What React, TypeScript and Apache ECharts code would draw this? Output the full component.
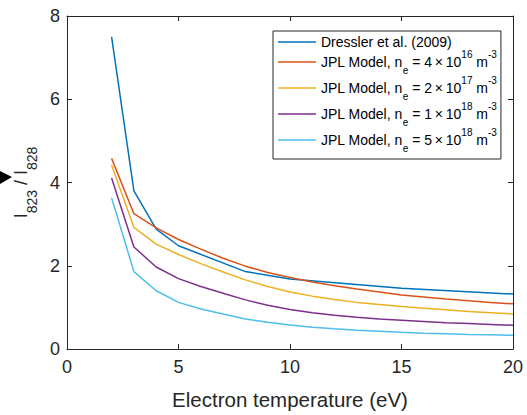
import React, { useEffect, useRef } from 'react';
import * as echarts from 'echarts';

const FONT = '"Liberation Sans", Arial, Helvetica, sans-serif';
const AXIS_COLOR = '#262626';

const xTicks = [0, 5, 10, 15, 20];
const yTicks = [0, 2, 4, 6, 8];

const dresslerTe = [2, 3, 4, 5, 8, 10, 15, 20];
const dresslerRatio = [7.5, 3.8, 2.88, 2.48, 1.86, 1.68, 1.46, 1.32];

const modelTe = [2, 3, 4, 5, 6, 7, 8, 9, 10, 11, 12, 13, 14, 15, 16, 17, 18, 19, 20];
const model4e16 = [4.58, 3.25, 2.91, 2.63, 2.40, 2.18, 1.99, 1.84, 1.72, 1.61, 1.52, 1.44, 1.37, 1.30, 1.25, 1.20, 1.16, 1.12, 1.085];
const model2e17 = [4.42, 2.92, 2.52, 2.27, 2.05, 1.85, 1.66, 1.50, 1.37, 1.27, 1.19, 1.12, 1.07, 1.02, 0.98, 0.94, 0.90, 0.87, 0.84];
const model1e18 = [4.11, 2.45, 1.97, 1.69, 1.50, 1.34, 1.18, 1.05, 0.95, 0.87, 0.81, 0.76, 0.72, 0.69, 0.66, 0.63, 0.61, 0.59, 0.57];
const model5e18 = [3.63, 1.86, 1.40, 1.12, 0.96, 0.84, 0.72, 0.64, 0.575, 0.525, 0.485, 0.45, 0.425, 0.40, 0.38, 0.365, 0.35, 0.34, 0.33];

const seriesNames = ['Dressler', 'n4e16', 'n2e17', 'n1e18', 'n5e18'];
const seriesColors = ['#0072BD', '#D95319', '#EDB120', '#7E2F8E', '#4DBEEE'];
const legendLabels: Record<string, string> = {
  Dressler: '{p|Dressler et al. (2009)}',
  n4e16: '{a|JPL Model, n}{sub|e}{a| = 4\u2009\u00D7\u200910}{sup|16}{a| m}{sup|-3}',
  n2e17: '{a|JPL Model, n}{sub|e}{a| = 2\u2009\u00D7\u200910}{sup|17}{a| m}{sup|-3}',
  n1e18: '{a|JPL Model, n}{sub|e}{a| = 1\u2009\u00D7\u200910}{sup|18}{a| m}{sup|-3}',
  n5e18: '{a|JPL Model, n}{sub|e}{a| = 5\u2009\u00D7\u200910}{sup|18}{a| m}{sup|-3}',
};

const zip = (xs: number[], ys: number[]) => xs.map((x, i) => [x, ys[i]]);

export default function App() {
  const ref = useRef<HTMLDivElement>(null);
  useEffect(() => {
    const chart = echarts.init(ref.current!, null, { renderer: 'svg' });
    const seriesData = [
      zip(dresslerTe, dresslerRatio),
      zip(modelTe, model4e16),
      zip(modelTe, model2e17),
      zip(modelTe, model1e18),
      zip(modelTe, model5e18),
    ];
    const axisLine = { show: true, onZero: false, lineStyle: { color: AXIS_COLOR, width: 1 } };
    const axisTick = { show: true, inside: true, length: 5, lineStyle: { color: AXIS_COLOR, width: 1 } };
    chart.setOption({
      animation: false,
      backgroundColor: '#ffffff',
      textStyle: { fontFamily: FONT },
      grid: { left: 67, right: 14, top: 16, bottom: 60, containLabel: false },
      xAxis: [
        {
          type: 'value', min: xTicks[0], max: xTicks[xTicks.length - 1], interval: 5, position: 'bottom',
          axisLine, axisTick, splitLine: { show: false },
          axisLabel: { color: AXIS_COLOR, fontSize: 18, margin: 9, fontFamily: FONT },
          name: 'Electron temperature (eV)', nameLocation: 'middle', nameGap: 40,
          nameTextStyle: { color: AXIS_COLOR, fontSize: 20.5, fontFamily: FONT },
        },
        {
          type: 'value', min: xTicks[0], max: xTicks[xTicks.length - 1], interval: 5, position: 'top',
          axisLine, axisTick, splitLine: { show: false }, axisLabel: { show: false },
        },
      ],
      yAxis: [
        {
          type: 'value', min: yTicks[0], max: yTicks[yTicks.length - 1], interval: 2, position: 'left',
          axisLine, axisTick, splitLine: { show: false },
          axisLabel: { color: AXIS_COLOR, fontSize: 18, margin: 7, fontFamily: FONT },
          name: '{m|I}{s|823}{m| / I}{s|828}', nameLocation: 'middle', nameRotate: 90, nameGap: 27,
          nameTextStyle: {
            color: AXIS_COLOR, fontFamily: FONT,
            rich: {
              m: { fontSize: 18, lineHeight: 36, color: AXIS_COLOR, fontFamily: FONT },
              s: { fontSize: 14, lineHeight: 14, verticalAlign: 'bottom', color: AXIS_COLOR, fontFamily: FONT },
            },
          },
        },
        {
          type: 'value', min: yTicks[0], max: yTicks[yTicks.length - 1], interval: 2, position: 'right',
          axisLine, axisTick, splitLine: { show: false }, axisLabel: { show: false },
        },
      ],
      legend: {
        show: true, orient: 'vertical', left: 273, top: 31,
        data: seriesNames,
        icon: 'rect', itemWidth: 38, itemHeight: 1.5, itemGap: 0,
        backgroundColor: '#ffffff', borderColor: AXIS_COLOR, borderWidth: 1, borderRadius: 0,
        padding: [4, 4, 6, 5],
        formatter: (name: string) => legendLabels[name],
        textStyle: {
          color: '#000000', fontFamily: FONT, fontSize: 14,
          rich: {
            p: { fontSize: 14, lineHeight: 16, color: '#000', fontFamily: FONT },
            a: { fontSize: 14, lineHeight: 26, color: '#000', fontFamily: FONT },
            sup: { fontSize: 10, lineHeight: 18, verticalAlign: 'top', color: '#000', fontFamily: FONT },
            sub: { fontSize: 10, lineHeight: 12, verticalAlign: 'bottom', color: '#000', fontFamily: FONT },
          },
        },
      },
      graphic: [
        { type: 'polygon', shape: { points: [[0, 171], [12, 177], [0, 184]] }, style: { fill: '#000' } },
      ],
      series: seriesNames.map((name, i) => ({
        name, type: 'line', data: seriesData[i], symbol: 'none', showSymbol: false,
        xAxisIndex: 0, yAxisIndex: 0,
        color: seriesColors[i],
        lineStyle: { color: seriesColors[i], width: 1.5 },
      })),
    });
    return () => chart.dispose();
  }, []);
  return (
    <div
      ref={ref}
      style={{ position: 'fixed', left: 0, top: 0, width: 527, height: 415, background: '#fff' }}
    />
  );
}
